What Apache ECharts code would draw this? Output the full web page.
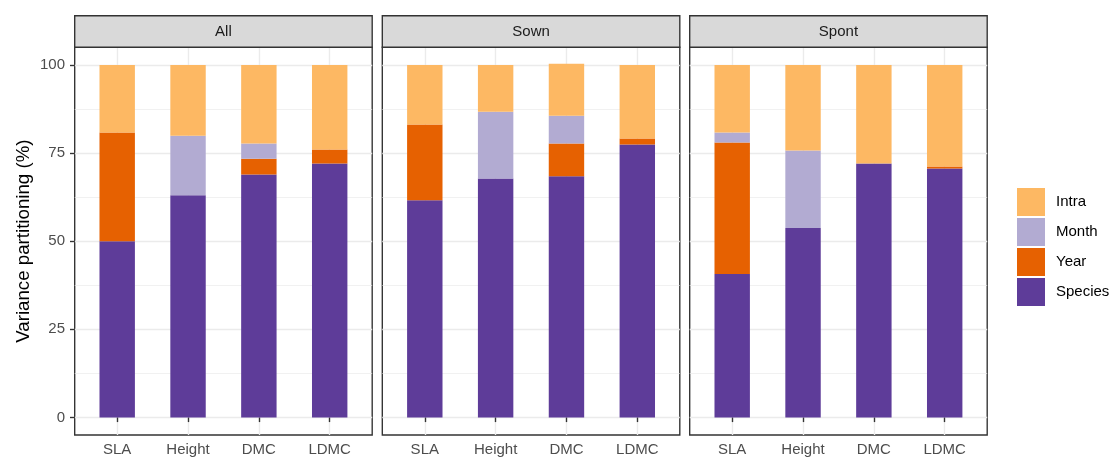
<!DOCTYPE html>
<html><head><meta charset="utf-8">
<script src="https://cdn.jsdelivr.net/npm/echarts@6/dist/echarts.min.js"></script>
<style>html,body{margin:0;padding:0;background:#fff}#c{width:1111px;height:457px}</style>
</head><body><div id="c"></div>
<script>
// ---- data ----
const categories = ['SLA', 'Height', 'DMC', 'LDMC'];
const panels = ['All', 'Sown', 'Spont'];
const legendOrder = ['Intra', 'Month', 'Year', 'Species'];
const stackOrder = ['Species', 'Year', 'Month', 'Intra'];

const allSpecies = [50.0, 63.0, 68.9, 72.0];
const allYear    = [30.8, 0.0, 4.5, 4.0];
const allMonth   = [0.0, 16.9, 4.3, 0.0];
const allIntra   = [19.2, 20.1, 22.3, 24.0];

const sownSpecies = [61.6, 67.8, 68.4, 77.4];
const sownYear    = [21.5, 0.0, 9.3, 1.7];
const sownMonth   = [0.0, 18.9, 7.9, 0.0];
const sownIntra   = [16.9, 13.3, 14.7, 20.9];

const spontSpecies = [40.7, 53.7, 72.0, 70.6];
const spontYear    = [37.3, 0.0, 0.0, 0.6];
const spontMonth   = [2.8, 22.0, 0.0, 0.0];
const spontIntra   = [19.2, 24.3, 28.0, 28.8];

const yTicks = [0, 25, 50, 75, 100];
const yMinorTicks = [12.5, 37.5, 62.5, 87.5];

// ---- styling / layout ----
const colors = { Intra: '#FDB863', Month: '#B2ABD2', Year: '#E66101', Species: '#5E3C99' };
const panelData = [
  { Species: allSpecies, Year: allYear, Month: allMonth, Intra: allIntra },
  { Species: sownSpecies, Year: sownYear, Month: sownMonth, Intra: sownIntra },
  { Species: spontSpecies, Year: spontYear, Month: spontMonth, Intra: spontIntra }
];
const FONT = '"Liberation Sans", Arial, Helvetica, sans-serif';
const gridLefts = [74.7, 382.3, 689.7];
const gridW = 297.5, gridTop = 47.3, gridH = 389.4, stripTop = 15.7;
const catPos = categories.map((_, i) => i + 1);
const barW = gridW * 0.5 / (categories.length + 0.2);
const LW = 1.37, LWMINOR = 0.7, GRIDC = '#EBEBEB', DARK = '#333333';

const grids = [], xAxes = [], yAxes = [], series = [], graphics = [];
panels.forEach((pn, p) => {
  grids.push({ left: gridLefts[p], top: gridTop, width: gridW, height: gridH,
    show: true, backgroundColor: '#fff', borderColor: DARK, borderWidth: LW });
  xAxes.push({ type: 'value', gridIndex: p, min: 0.4, max: categories.length + 0.6,
    axisLine: { show: false },
    axisTick: { show: true, customValues: catPos, length: 4.7, lineStyle: { color: DARK, width: LW } },
    axisLabel: { customValues: catPos, formatter: v => categories[Math.round(v) - 1], margin: 7,
      color: '#4D4D4D', fontSize: 15, fontFamily: FONT },
    splitLine: { show: true, lineStyle: { color: GRIDC, width: LW } } });
  yAxes.push({ type: 'value', gridIndex: p, min: -5, max: 105, position: 'left',
    axisLine: { show: false },
    axisTick: { show: p === 0, customValues: yTicks, length: 4.7, lineStyle: { color: DARK, width: LW } },
    axisLabel: { show: p === 0, customValues: yTicks, margin: 9.7, color: '#4D4D4D', fontSize: 15, fontFamily: FONT },
    splitLine: { show: true, lineStyle: { color: GRIDC, width: LW } },
    name: p === 0 ? 'Variance partitioning (%)' : '', nameLocation: 'middle', nameGap: 41,
    nameTextStyle: { fontSize: 18.7, color: '#000', fontFamily: FONT } });
  yAxes.push({ type: 'value', gridIndex: p, min: -5, max: 105, position: 'left',
    axisLine: { show: false },
    axisTick: { show: false, customValues: yMinorTicks },
    axisLabel: { show: false, customValues: yMinorTicks },
    splitLine: { show: true, lineStyle: { color: GRIDC, width: LWMINOR } } });
  stackOrder.forEach(c => {
    series.push({ type: 'bar', name: c, xAxisIndex: p, yAxisIndex: 2 * p, stack: 'p' + p,
      barWidth: barW, itemStyle: { color: colors[c] }, z: 3,
      encode: { x: 1, y: 0 },
      data: panelData[p][c].map((v, i) => [v, catPos[i]]) });
  });
  graphics.push({ type: 'rect', shape: { x: gridLefts[p], y: stripTop, width: gridW, height: gridTop - stripTop },
    style: { fill: '#D9D9D9', stroke: DARK, lineWidth: LW }, z: 10 });
  graphics.push({ type: 'text', x: gridLefts[p] + gridW / 2, y: (stripTop + gridTop) / 2,
    style: { text: pn, align: 'center', verticalAlign: 'middle', textAlign: 'center', textVerticalAlign: 'middle',
      fontSize: 15, fill: '#1A1A1A', fontFamily: FONT }, z: 11 });
});

const chart = echarts.init(document.getElementById('c'), null, { renderer: 'canvas' });
chart.setOption({
  animation: false,
  backgroundColor: '#fff',
  grid: grids, xAxis: xAxes, yAxis: yAxes, series: series, graphic: graphics,
  legend: { orient: 'vertical', left: 1017, top: 188, padding: 0, itemWidth: 28, itemHeight: 28, itemGap: 2,
    icon: 'rect', data: legendOrder, selectedMode: false,
    textStyle: { fontSize: 15, color: '#000', fontFamily: FONT, padding: [0, 0, 0, 6] } }
});
</script></body></html>
